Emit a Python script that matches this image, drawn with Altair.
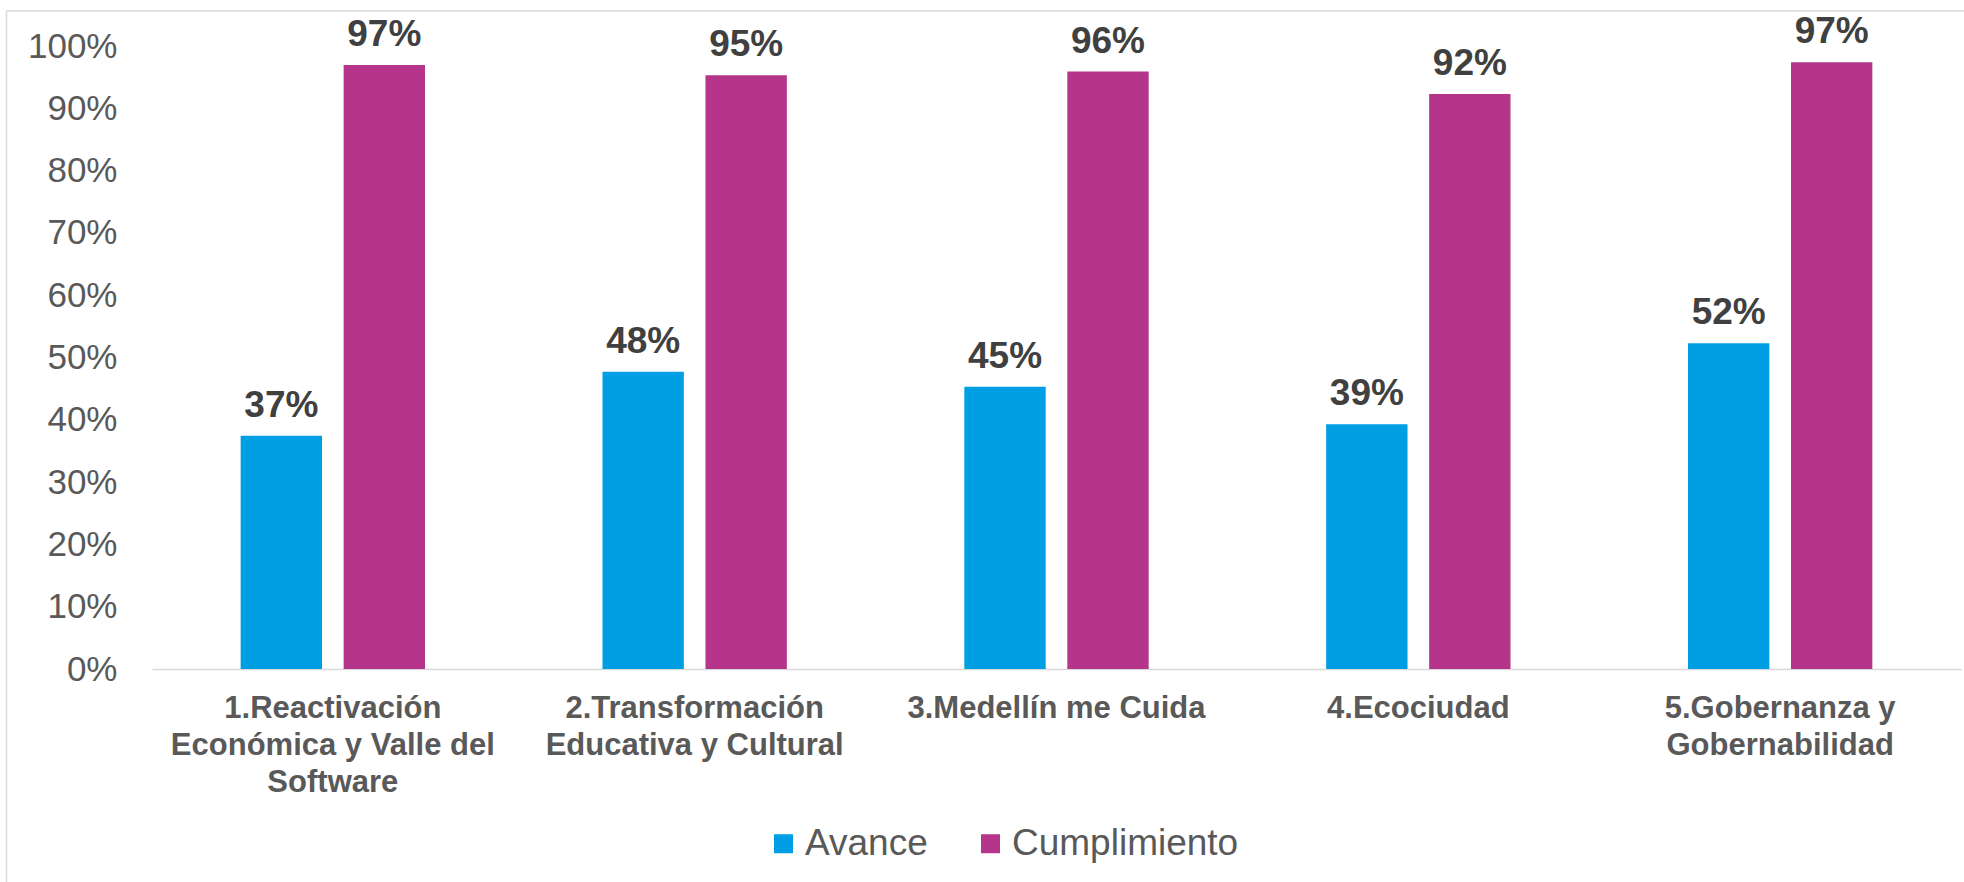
import altair as alt
import pandas as pd

# ---- data ----
categorias = [
    "1.Reactivación|Económica y Valle del|Software",
    "2.Transformación|Educativa y Cultural",
    "3.Medellín me Cuida",
    "4.Ecociudad",
    "5.Gobernanza y|Gobernabilidad",
]
series = ["Avance", "Cumplimiento"]
avance = [0.3745, 0.477, 0.453, 0.393, 0.523]
cumplimiento = [0.9695, 0.953, 0.959, 0.923, 0.974]
colores = ["#009FE3", "#B4358A"]
y_ticks = [0.0, 0.1, 0.2, 0.3, 0.4, 0.5, 0.6, 0.7, 0.8, 0.9, 1.0]

rows = []
for c, a, b in zip(categorias, avance, cumplimiento):
    rows.append({"cat": c, "serie": series[0], "valor": a})
    rows.append({"cat": c, "serie": series[1], "valor": b})
df = pd.DataFrame(rows)

FONT = "Liberation Sans"
PLOT_W, PLOT_H = 1809, 623

x_enc = alt.X(
    "cat:N",
    sort=categorias,
    scale=alt.Scale(paddingInner=0.4905, paddingOuter=0.245),
    axis=alt.Axis(
        title=None, labelAngle=0, labelExpr="split(datum.label, '|')",
        labelFont=FONT, labelFontSize=31, labelFontWeight="bold",
        labelColor="#595959", labelLineHeight=37, labelPadding=24,
        labelBaseline="top", ticks=False, tickSize=0,
        domainColor="#D9D9D9", domainWidth=1.5, labelLimit=0,
    ),
)
xoff = alt.XOffset("serie:N", sort=series,
                   scale=alt.Scale(paddingInner=0.21, paddingOuter=0))
y_enc = alt.Y(
    "valor:Q",
    scale=alt.Scale(domain=[0, 1], nice=False),
    axis=alt.Axis(
        title=None, values=y_ticks, format=".0%", grid=False, domain=False,
        ticks=False, tickSize=0, labelPadding=35, labelFont=FONT,
        labelFontSize=35, labelColor="#595959",
    ),
)

base = alt.Chart(df)

bars = base.mark_bar().encode(
    x=x_enc,
    xOffset=xoff,
    y=y_enc,
    color=alt.Color(
        "serie:N",
        scale=alt.Scale(domain=series, range=colores),
        legend=alt.Legend(
            title=None, orient="none", direction="horizontal",
            legendX=613, legendY=779, symbolType="square", symbolSize=361,
            symbolStrokeWidth=0, symbolOpacity=1,
            labelFont=FONT, labelFontSize=37, labelColor="#595959",
            labelLimit=0, columnPadding=44, labelOffset=3, padding=0,
        ),
    ),
)

labels = base.mark_text(
    baseline="alphabetic", dy=-19, font=FONT, fontSize=37,
    fontWeight="bold", color="#404040",
).encode(
    x=alt.X("cat:N", sort=categorias),
    xOffset=xoff,
    y=alt.Y("valor:Q"),
    text=alt.Text("valor:Q", format=".0%"),
)

frame_df = pd.DataFrame({"k": [0]})
frame_left = alt.Chart(frame_df).mark_rule(color="#D9D9D9", strokeWidth=1.5).encode(
    x=alt.value(-145.5), y=alt.value(-35), y2=alt.value(840)
)
frame_top = alt.Chart(frame_df).mark_rule(color="#D9D9D9", strokeWidth=1.5).encode(
    y=alt.value(-35), x=alt.value(-145.5), x2=alt.value(1815)
)

chart = (
    alt.layer(frame_left, frame_top, bars, labels)
    .properties(
        width=PLOT_W, height=PLOT_H,
        padding={"left": 152, "top": 46, "right": 3, "bottom": 213},
        autosize=alt.AutoSizeParams(type="none"),
        background="white",
    )
    .configure_view(stroke=None)
)

chart.save("out.html", embed_options={"renderer": "svg", "actions": False})
